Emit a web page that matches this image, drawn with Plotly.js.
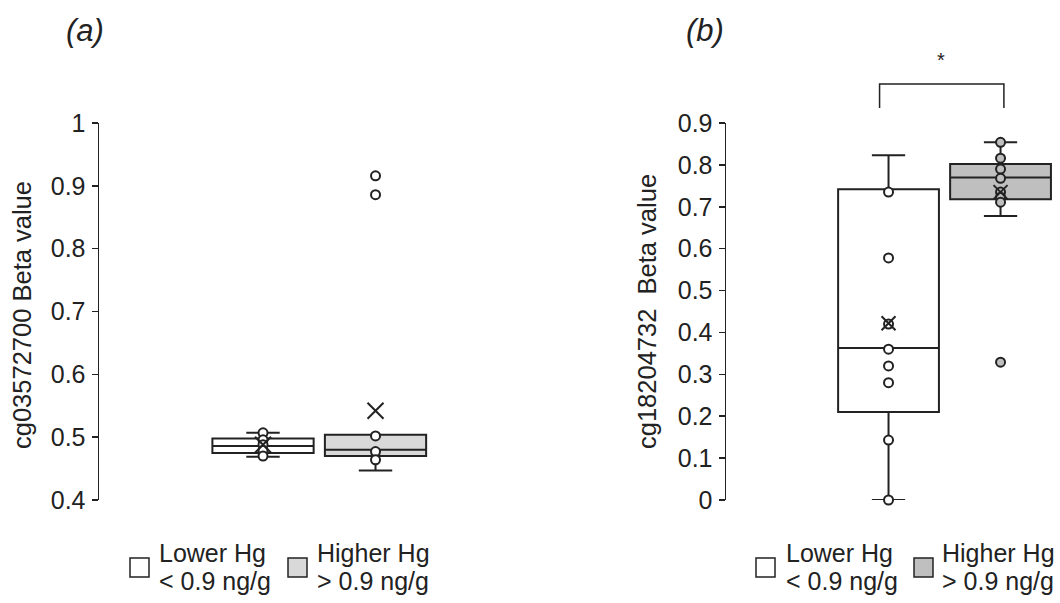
<!DOCTYPE html>
<html>
<head>
<meta charset="utf-8">
<script src="https://cdn.plot.ly/plotly-3.0.1.min.js"></script>
<style>html,body{margin:0;padding:0;background:#fff}#chart{width:1060px;height:603px}</style>
</head>
<body>
<div id="chart"></div>
<script>
// ---------- data ----------
const groupNames = ['Lower Hg', 'Higher Hg'];
const groupSubs = ['< 0.9 ng/g', '> 0.9 ng/g'];
const groupX = [0, 1];

// panel (a) cg03572700
const aQ1 = [0.475, 0.470];
const aMedian = [0.486, 0.480];
const aQ3 = [0.498, 0.504];
const aLower = [0.469, 0.447];
const aUpper = [0.507, 0.504];
const aMean = [0.488, 0.542];
const aPointsLow = [0.507, 0.496, 0.488, 0.479, 0.470];
const aPointsHigh = [0.916, 0.886, 0.502, 0.477, 0.464];

// panel (b) cg18204732
const bQ1 = [0.210, 0.718];
const bMedian = [0.363, 0.770];
const bQ3 = [0.742, 0.802];
const bLower = [0.000, 0.678];
const bUpper = [0.823, 0.854];
const bMean = [0.422, 0.735];
const bPointsLow = [0.735, 0.578, 0.420, 0.360, 0.320, 0.280, 0.143, 0.000];
const bPointsHigh = [0.854, 0.816, 0.790, 0.768, 0.735, 0.723, 0.711, 0.329];

const aTicks = [0.4, 0.5, 0.6, 0.7, 0.8, 0.9, 1];
const bTicks = [0, 0.1, 0.2, 0.3, 0.4, 0.5, 0.6, 0.7, 0.8, 0.9];

// ---------- style ----------
const INK = '#222222';
const FONT = 'Liberation Sans, Arial, sans-serif';
const aFills = ['#ffffff', '#d9d9d9'];
const bFills = ['#ffffff', '#bfbfbf'];
const aPtFills = ['#ffffff', '#ffffff'];
const bPtFills = ['#ffffff', '#bfbfbf'];

const W = 1060, H = 603, TOP = 123, BOT = 500;
const PX = p => p / W;
const PY = p => (BOT - p) / (BOT - TOP);

function boxTrace(i, xa, ya, q1, med, q3, lo, up, fills) {
  return {
    type: 'box', xaxis: xa, yaxis: ya,
    x: [groupX[i]], q1: [q1[i]], median: [med[i]], q3: [q3[i]],
    lowerfence: [lo[i]], upperfence: [up[i]],
    width: 0.9, whiskerwidth: 0.33,
    fillcolor: fills[i], line: {color: INK, width: 2},
    boxpoints: false, showlegend: false, hoverinfo: 'skip', name: groupNames[i]
  };
}
function pointTrace(i, xa, ya, pts, fills) {
  return {
    type: 'scatter', mode: 'markers', xaxis: xa, yaxis: ya,
    x: pts.map(() => groupX[i]), y: pts, cliponaxis: false,
    marker: {symbol: 'circle', size: 9, color: fills[i], line: {color: INK, width: 2}},
    showlegend: false, hoverinfo: 'skip'
  };
}
function meanTrace(xa, ya, means, size) {
  return {
    type: 'scatter', mode: 'markers', xaxis: xa, yaxis: ya,
    x: groupX, y: means, cliponaxis: false,
    marker: {symbol: 'x-thin-open', size: size, color: INK, line: {color: INK, width: 2}},
    showlegend: false, hoverinfo: 'skip'
  };
}

const traces = [];
[0, 1].forEach(i => traces.push(boxTrace(i, 'x', 'y', aQ1, aMedian, aQ3, aLower, aUpper, aFills)));
[0, 1].forEach(i => traces.push(boxTrace(i, 'x2', 'y2', bQ1, bMedian, bQ3, bLower, bUpper, bFills)));
traces.push(pointTrace(0, 'x', 'y', aPointsLow, aPtFills));
traces.push(pointTrace(1, 'x', 'y', aPointsHigh, aPtFills));
traces.push(pointTrace(0, 'x2', 'y2', bPointsLow, bPtFills));
traces.push(pointTrace(1, 'x2', 'y2', bPointsHigh, bPtFills));
traces.push(meanTrace('x', 'y', aMean, 16));
traces.push(meanTrace('x2', 'y2', bMean, 14));

const esc = s => s.replace(/</g, '&lt;').replace(/>/g, '&gt;');

const yAxisCommon = {
  showgrid: false, zeroline: false, showline: true, linecolor: INK, linewidth: 1.5,
  ticks: 'outside', ticklen: 6, tickwidth: 1.5, tickcolor: INK,
  tickfont: {family: FONT, size: 25, color: INK}, ticklabelstandoff: 1
};
const xAxisCommon = {showgrid: false, zeroline: false, showline: false, showticklabels: false, ticks: ''};

const shapes = [];
const annotations = [];

// y-axis titles
annotations.push({xref: 'paper', yref: 'paper', x: PX(22), y: PY(315), text: 'cg03572700 Beta value',
  textangle: -90, showarrow: false, font: {family: FONT, size: 25.5, color: INK}, xanchor: 'center', yanchor: 'middle'});
annotations.push({xref: 'paper', yref: 'paper', x: PX(647), y: PY(312), text: 'cg18204732&nbsp;&nbsp;Beta value',
  textangle: -90, showarrow: false, font: {family: FONT, size: 25.5, color: INK}, xanchor: 'center', yanchor: 'middle'});

// panel labels
annotations.push({xref: 'paper', yref: 'paper', x: PX(85), y: PY(30), text: '<i>(a)</i>', showarrow: false,
  font: {family: FONT, size: 31, color: INK}, xanchor: 'center', yanchor: 'middle'});
annotations.push({xref: 'paper', yref: 'paper', x: PX(705), y: PY(30), text: '<i>(b)</i>', showarrow: false,
  font: {family: FONT, size: 31, color: INK}, xanchor: 'center', yanchor: 'middle'});

// significance bracket (b)
shapes.push({type: 'path', xref: 'x2', yref: 'paper',
  path: `M -0.08 ${PY(108)} L -0.08 ${PY(84)} L 1.03 ${PY(84)} L 1.03 ${PY(108)}`,
  line: {color: INK, width: 1.5}});
annotations.push({xref: 'x2', yref: 'paper', x: 0.47, y: PY(60), text: '*', showarrow: false,
  font: {family: FONT, size: 20, color: INK}, xanchor: 'center', yanchor: 'middle'});

// manual legends
function legend(boxXs, textXs, fills) {
  [0, 1].forEach(i => {
    shapes.push({type: 'rect', xref: 'paper', yref: 'paper', x0: PX(boxXs[i]), x1: PX(boxXs[i] + 19),
      y0: PY(577), y1: PY(558), fillcolor: fills[i], line: {color: INK, width: 1.5}});
    annotations.push({xref: 'paper', yref: 'paper', x: PX(textXs[i]), y: PY(553), text: esc(groupNames[i]),
      showarrow: false, xanchor: 'left', yanchor: 'middle', font: {family: FONT, size: 25, color: INK}});
    annotations.push({xref: 'paper', yref: 'paper', x: PX(textXs[i]), y: PY(581), text: esc(groupSubs[i]),
      showarrow: false, xanchor: 'left', yanchor: 'middle', font: {family: FONT, size: 25, color: INK}});
  });
}
legend([130, 288], [157, 315], aFills);
legend([756, 914], [784, 940], bFills);

const layout = {
  width: W, height: H,
  margin: {l: 0, r: 0, t: TOP, b: H - BOT, pad: 0},
  paper_bgcolor: '#ffffff', plot_bgcolor: 'rgba(0,0,0,0)',
  showlegend: false,
  font: {family: FONT, color: INK},
  xaxis: Object.assign({}, xAxisCommon, {domain: [PX(99), PX(460)], range: [-1.458, 1.751]}),
  yaxis: Object.assign({}, yAxisCommon, {anchor: 'x', range: [0.4, 1], tickvals: aTicks, ticktext: aTicks.map(String)}),
  xaxis2: Object.assign({}, xAxisCommon, {domain: [PX(726), PX(1058)], range: [-1.451, 1.513], anchor: 'y2'}),
  yaxis2: Object.assign({}, yAxisCommon, {anchor: 'x2', range: [0, 0.9], tickvals: bTicks, ticktext: bTicks.map(String)}),
  shapes: shapes, annotations: annotations
};

Plotly.newPlot('chart', traces, layout, {displayModeBar: false, staticPlot: true});
</script>
</body>
</html>
